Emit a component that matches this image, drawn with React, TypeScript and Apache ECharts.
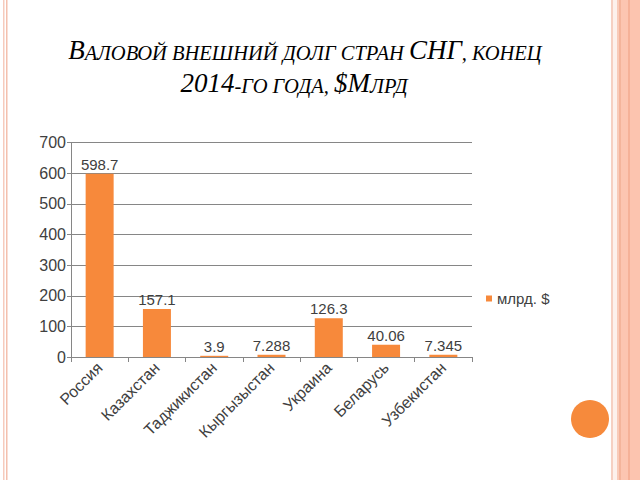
import React, { useEffect, useRef } from "react";
import * as echarts from "echarts";

const categories = ["Россия", "Казахстан", "Таджикистан", "Кыргызыстан", "Украина", "Беларусь", "Узбекистан"];
const values = [598.7, 157.1, 3.9, 7.288, 126.3, 40.06, 7.345];
const seriesName = "млрд. $";
const yTicks = { min: 0, max: 700, interval: 100 };

const ORANGE = "#F7893B";
const TEXT = "#404040";
const GRID = "#868686";
const FONT = "Liberation Sans";

export default function App() {
  const ref = useRef<HTMLDivElement>(null);
  useEffect(() => {
    if (!ref.current) return;
    const chart = echarts.init(ref.current, undefined, { renderer: "svg", width: 640, height: 480 });
    const rich = {
      b: { fontSize: 27, fontFamily: "Liberation Serif", fontStyle: "italic", color: "#666666", verticalAlign: "bottom" },
      s: { fontSize: 20.5, fontFamily: "Liberation Serif", fontStyle: "italic", color: "#666666", verticalAlign: "bottom" },
    };
    const stripes = [
      { x: 3, w: 1.5, c: "#f6cbbd" },
      { x: 6, w: 1.5, c: "#f4c0ae" },
      { x: 611, w: 2, c: "#f6d0c2" },
      { x: 613, w: 4, c: "#fdf1ec" },
      { x: 617, w: 2, c: "#f9cbb9" },
      { x: 619, w: 2, c: "#f4b49b" },
      { x: 621, w: 7, c: "#fcc5b1" },
      { x: 628, w: 2, c: "#f5b198" },
      { x: 630, w: 10, c: "#fcc4af" },
    ];
    chart.setOption({
      animation: false,
      backgroundColor: "#ffffff",
      graphic: [
        ...stripes.map((s) => ({
          type: "rect",
          shape: { x: s.x, y: 0, width: s.w, height: 480 },
          style: { fill: s.c },
          silent: true,
        })),
        {
          type: "circle",
          shape: { cx: 590, cy: 419, r: 19 },
          style: { fill: "#F68A3C" },
        },
        {
          type: "text",
          x: 305,
          y: 63,
          style: {
            text: "{b|В}{s|АЛОВОЙ ВНЕШНИЙ ДОЛГ СТРАН }{b|СНГ}{s|, КОНЕЦ}",
            rich,
            align: "center",
            verticalAlign: "bottom",
          },
        },
        {
          type: "text",
          x: 294,
          y: 96,
          style: {
            text: "{b|2014}{s|-ГО ГОДА, }{b|$М}{s|ЛРД}",
            rich,
            align: "center",
            verticalAlign: "bottom",
          },
        },
      ],
      grid: { left: 71, right: 168, top: 142.7, bottom: 123, containLabel: false },
      legend: {
        data: [seriesName],
        left: 481,
        top: 286,
        orient: "vertical",
        itemWidth: 6,
        itemHeight: 6,
        icon: "rect",
        textStyle: { fontSize: 15, color: TEXT, fontFamily: FONT },
      },
      xAxis: {
        type: "category",
        data: categories,
        axisLine: { lineStyle: { color: GRID, width: 1 } },
        axisTick: { show: true, length: 5, lineStyle: { color: GRID } },
        axisLabel: { rotate: 45, fontSize: 16, color: TEXT, fontFamily: FONT, margin: 8, interval: 0 },
      },
      yAxis: {
        type: "value",
        min: yTicks.min,
        max: yTicks.max,
        interval: yTicks.interval,
        axisLine: { show: true, lineStyle: { color: GRID, width: 1 } },
        axisTick: { show: true, length: 4, lineStyle: { color: GRID } },
        axisLabel: { fontSize: 16, color: TEXT, fontFamily: FONT, margin: 5 },
        splitLine: { show: true, lineStyle: { color: GRID, width: 1 } },
      },
      series: [
        {
          name: seriesName,
          type: "bar",
          data: values,
          barWidth: 28,
          itemStyle: { color: ORANGE },
          label: { show: true, position: "top", distance: 2, fontSize: 15, color: TEXT, fontFamily: FONT },
        },
      ],
    });
    return () => chart.dispose();
  }, []);
  return <div ref={ref} style={{ position: "fixed", left: 0, top: 0, width: 640, height: 480, background: "#fff" }} />;
}
